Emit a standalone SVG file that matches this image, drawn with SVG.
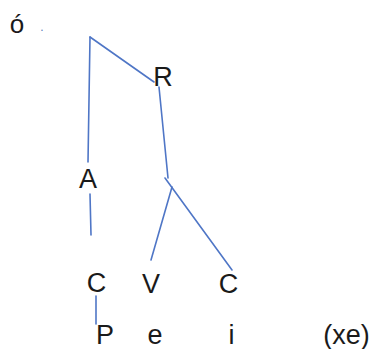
<svg xmlns="http://www.w3.org/2000/svg" width="375" height="349" viewBox="0 0 375 349">
<style>
.t{font-family:"Liberation Sans",Arial,sans-serif;font-size:27px;fill:#1a1a1a;text-anchor:middle}
.c line{stroke:#4f76c6;stroke-width:1.6;stroke-linecap:round}
</style>
<rect width="375" height="349" fill="#ffffff"/>
<g class="c" id="connectors">
<line x1="90" y1="37" x2="88" y2="162"/>
<line x1="90" y1="37" x2="154" y2="82"/>
<line x1="90" y1="194" x2="91" y2="235"/>
<line x1="159" y1="87" x2="168" y2="178"/>
<line x1="165" y1="178" x2="232" y2="270"/>
<line x1="172" y1="187" x2="151" y2="260"/>
<line x1="96" y1="296" x2="96" y2="324"/>
</g>
<g id="n-o"><text class="t" x="17" y="33" style="font-size:26px">ó</text></g>
<g id="n-dot"><text class="t" x="42" y="31" style="font-size:12px;fill:#5a78b8">.</text></g>
<g id="n-R"><text class="t" x="163" y="86">R</text></g>
<g id="n-A"><text class="t" x="88" y="188">A</text></g>
<g id="n-C1"><text class="t" x="96.5" y="292">C</text></g>
<g id="n-V"><text class="t" x="151" y="293">V</text></g>
<g id="n-C2"><text class="t" x="228.5" y="293">C</text></g>
<g id="n-P"><text class="t" x="105" y="344">P</text></g>
<g id="n-e"><text class="t" x="155" y="344">e</text></g>
<g id="n-i"><text class="t" x="231.5" y="344">i</text></g>
<g id="n-xe"><text class="t" x="346.5" y="344">(xe)</text></g>
</svg>
